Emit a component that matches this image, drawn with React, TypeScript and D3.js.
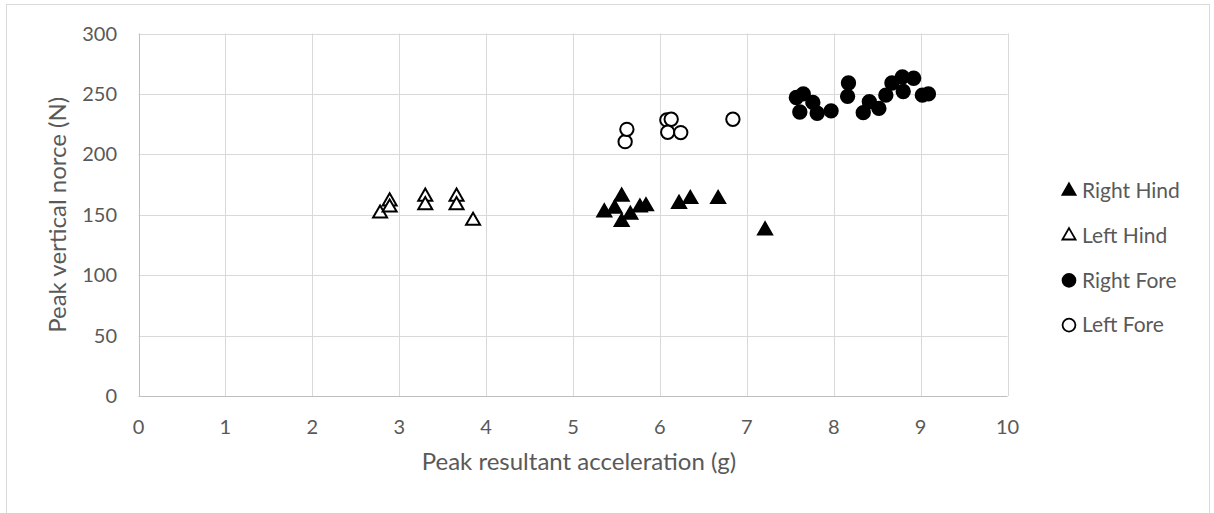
import React, { useRef, useEffect } from 'react';
import * as d3 from 'd3';

// Peak resultant acceleration (g) vs peak vertical force (N), per limb
const rightHindX = [5.36, 5.48, 5.56, 5.56, 5.66, 5.77, 5.84, 6.22, 6.35, 6.67, 7.21];
const rightHindY = [152, 155, 165, 144, 150, 156, 157, 159, 163, 163, 137];

const leftHindX = [2.78, 2.89, 2.89, 3.3, 3.3, 3.66, 3.66, 3.85];
const leftHindY = [151, 161, 156, 165, 158, 165, 158, 145];

const rightForeX = [7.57, 7.65, 7.61, 7.76, 7.81, 7.97, 8.17, 8.16, 8.34, 8.41, 8.52, 8.6, 8.67, 8.79, 8.8, 8.92, 9.02, 9.09];
const rightForeY = [247, 250, 235, 243, 234, 236, 259, 248, 234.5, 243.5, 238, 249, 259, 264, 252, 263, 249, 250];

const leftForeX = [5.6, 5.62, 6.08, 6.13, 6.09, 6.24, 6.84];
const leftForeY = [210.5, 220.7, 228.5, 229, 218.3, 218, 229];

const xTicks = [0, 1, 2, 3, 4, 5, 6, 7, 8, 9, 10];
const yTicks = [0, 50, 100, 150, 200, 250, 300];

const seriesNames = ['Right Hind', 'Left Hind', 'Right Fore', 'Left Fore'];

const App = () => {
  const svgRef = useRef(null);

  useEffect(() => {
    const w = 1214;
    const h = 513;
    const font = 'Lato, "Open Sans", sans-serif';
    const textColor = '#595959';

    const svg = d3.select(svgRef.current).attr('width', w).attr('height', h);
    svg.selectAll('*').remove();

    // chart frame
    svg
      .append('rect')
      .attr('x', 6.5)
      .attr('y', 4.5)
      .attr('width', 1203)
      .attr('height', 520)
      .attr('fill', '#fff')
      .attr('stroke', '#d9d9d9');

    // scales
    const xScale = d3.scaleLinear().domain([0, 10]).range([138.5, 1007.5]);
    const yScale = d3.scaleLinear().domain([0, 300]).range([396, 33.5]);

    // grid
    svg
      .append('g')
      .selectAll('line')
      .data(yTicks.slice(1))
      .join('line')
      .attr('x1', xScale(0))
      .attr('x2', xScale(10))
      .attr('y1', (d) => Math.round(yScale(d)) + 0.5)
      .attr('y2', (d) => Math.round(yScale(d)) + 0.5)
      .attr('stroke', '#d9d9d9');
    svg
      .append('g')
      .selectAll('line')
      .data(xTicks.slice(1))
      .join('line')
      .attr('x1', (d) => Math.round(xScale(d)) + 0.5)
      .attr('x2', (d) => Math.round(xScale(d)) + 0.5)
      .attr('y1', yScale(0))
      .attr('y2', yScale(300))
      .attr('stroke', '#d9d9d9');

    // axis lines
    svg
      .append('line')
      .attr('x1', xScale(0))
      .attr('x2', xScale(10))
      .attr('y1', Math.round(yScale(0)) + 0.5)
      .attr('y2', Math.round(yScale(0)) + 0.5)
      .attr('stroke', '#bfbfbf');
    svg
      .append('line')
      .attr('x1', Math.round(xScale(0)) + 0.5)
      .attr('x2', Math.round(xScale(0)) + 0.5)
      .attr('y1', yScale(0))
      .attr('y2', yScale(300))
      .attr('stroke', '#bfbfbf');

    // tick labels
    svg
      .append('g')
      .selectAll('text')
      .data(xTicks)
      .join('text')
      .attr('x', (d) => xScale(d))
      .attr('y', 427)
      .attr('dy', '0.35em')
      .attr('text-anchor', 'middle')
      .style('font-family', font)
      .style('font-size', '20px')
      .style('fill', textColor)
      .text((d) => d);
    svg
      .append('g')
      .selectAll('text')
      .data(yTicks)
      .join('text')
      .attr('x', 117)
      .attr('y', (d) => yScale(d))
      .attr('dy', '0.35em')
      .attr('text-anchor', 'end')
      .style('font-family', font)
      .style('font-size', '20px')
      .style('fill', textColor)
      .text((d) => d);

    // axis titles
    svg
      .append('text')
      .attr('x', 579)
      .attr('y', 470)
      .attr('text-anchor', 'middle')
      .style('font-family', font)
      .style('font-size', '24px')
      .style('fill', textColor)
      .text('Peak resultant acceleration (g)');
    svg
      .append('text')
      .attr('transform', `translate(66, ${yScale(150)}) rotate(-90)`)
      .attr('text-anchor', 'middle')
      .style('font-family', font)
      .style('font-size', '24px')
      .style('fill', textColor)
      .text('Peak vertical norce (N)');

    // markers
    const tri = d3.symbol().type(d3.symbolTriangle).size(85);
    const circ = d3.symbol().type(d3.symbolCircle).size(140);

    const series = [
      { x: rightHindX, y: rightHindY, sym: tri, fill: '#000' },
      { x: leftHindX, y: leftHindY, sym: tri, fill: '#fff' },
      { x: rightForeX, y: rightForeY, sym: circ, fill: '#000' },
      { x: leftForeX, y: leftForeY, sym: circ, fill: '#fff' },
    ];

    series.forEach((s) => {
      svg
        .append('g')
        .selectAll('path')
        .data(s.x.map((v, i) => [v, s.y[i]]))
        .join('path')
        .attr('d', s.sym)
        .attr('transform', (d) => `translate(${xScale(d[0])}, ${yScale(d[1])})`)
        .attr('fill', s.fill)
        .attr('stroke', '#000')
        .attr('stroke-width', 2);
    });

    // legend
    const legendTri = d3.symbol().type(d3.symbolTriangle).size(75);
    const legendCirc = d3.symbol().type(d3.symbolCircle).size(130);
    const legend = svg
      .append('g')
      .selectAll('g')
      .data(seriesNames)
      .join('g')
      .attr('transform', (d, i) => `translate(1069, ${191 + i * 44.7})`);
    legend
      .append('path')
      .attr('d', (d, i) => (i < 2 ? legendTri() : legendCirc()))
      .attr('fill', (d, i) => (i % 2 === 0 ? '#000' : '#fff'))
      .attr('stroke', '#000')
      .attr('stroke-width', 1.8);
    legend
      .append('text')
      .attr('x', 13)
      .attr('dy', '0.35em')
      .style('font-family', font)
      .style('font-size', '21px')
      .style('fill', textColor)
      .text((d) => d);
  }, []);

  return <svg ref={svgRef} style={{ position: 'absolute', left: 0, top: 0 }}></svg>;
};

export default App;
